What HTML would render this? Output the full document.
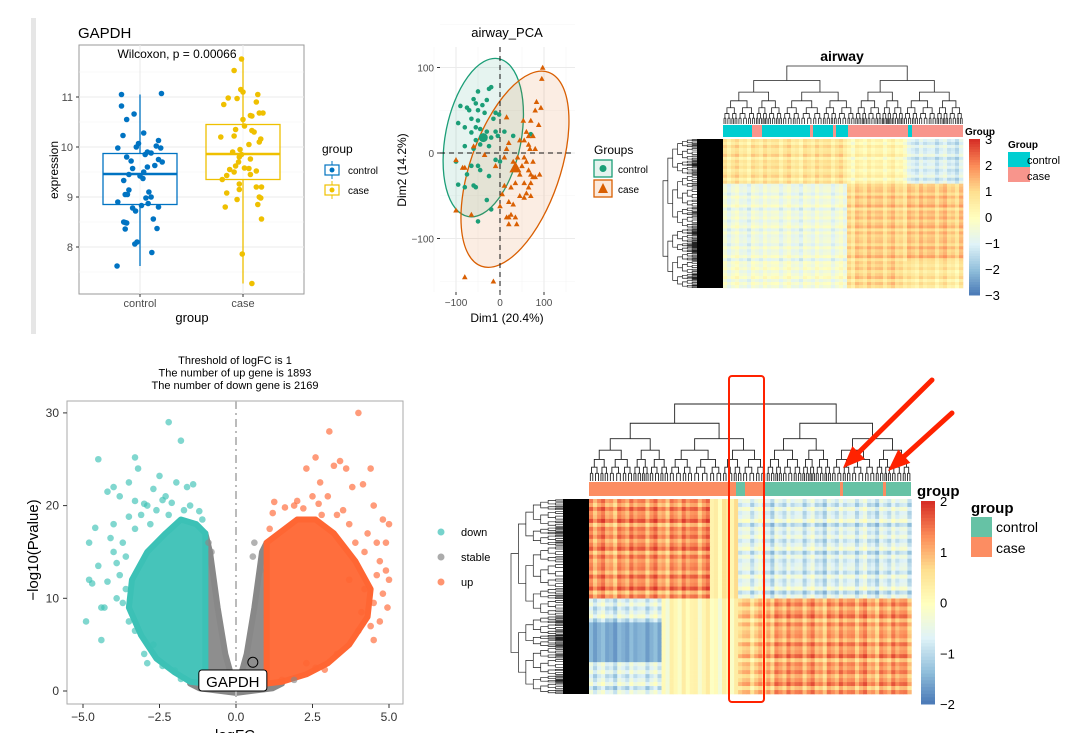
<!DOCTYPE html>
<html><head><meta charset="utf-8"><style>
html,body{margin:0;padding:0;background:#fff;}
svg{display:block;font-family:"Liberation Sans",sans-serif;}
</style></head><body>
<svg id="fig" width="1080" height="733" viewBox="0 0 1080 733" xmlns="http://www.w3.org/2000/svg">
<rect x="0" y="0" width="1080" height="733" fill="#fff"/>
<rect x="31" y="18" width="5" height="316" fill="#e6e6e6"/>
<g id="box"></g><g id="pca"></g><g id="hm1"></g><g id="volc"></g><g id="hm2"></g>
</svg>
<script>
// ---------- DATA ----------
const boxCategories=["control","case"];
const controlValues=[11.05,10.82,10.66,10.55,10.23,10.28,10.07,10.0,9.98,10.13,10.02,9.98,9.9,9.85,9.88,9.8,9.75,9.7,9.72,9.6,9.63,9.57,9.5,9.45,9.42,9.37,9.33,9.14,9.1,9.05,9.05,9.0,8.98,8.9,8.87,8.83,8.8,8.78,8.72,8.56,8.5,8.49,8.48,8.37,8.36,8.1,8.06,7.89,7.62,11.07];
const controlJitter=[-0.25,-0.25,-0.08,-0.18,-0.23,0.05,-0.02,-0.05,-0.3,0.25,0.22,0.28,0.1,0.07,0.15,-0.18,0.25,0.3,-0.12,0.1,0.2,-0.1,0.05,-0.15,0.0,0.04,-0.22,-0.15,0.12,-0.2,-0.17,0.15,0.08,-0.3,0.11,0.02,0.25,-0.1,-0.06,0.18,-0.22,-0.2,-0.18,0.23,-0.2,-0.04,-0.07,0.16,-0.31,0.29];
const caseValues=[11.76,11.53,11.15,11.1,11.05,10.98,10.97,10.9,10.85,10.68,10.68,10.63,10.62,10.55,10.42,10.35,10.33,10.3,10.22,10.2,10.16,10.1,10.05,9.95,9.9,9.85,9.8,9.76,9.7,9.62,9.58,9.57,9.55,9.52,9.5,9.45,9.43,9.35,9.26,9.2,9.2,9.15,9.08,9.0,8.98,8.95,8.85,8.8,8.56,7.86,7.27];
const caseJitter=[-0.02,-0.12,-0.03,0.0,0.2,-0.2,-0.08,0.18,-0.26,0.22,0.27,0.1,0.12,0.0,0.02,-0.1,0.12,0.15,-0.12,-0.3,0.24,0.22,0.08,-0.04,-0.14,-0.02,-0.05,0.1,-0.06,-0.1,0.02,0.08,-0.18,0.18,-0.12,0.1,-0.22,-0.28,-0.05,0.18,0.25,-0.05,-0.22,0.22,0.24,-0.08,0.2,-0.24,0.25,-0.01,0.12];
const boxStats={control:[7.62,8.85,9.46,9.87,11.05],case:[7.27,9.35,9.86,10.45,11.8]};
const boxTicks=[8,9,10,11];

const pcaControl=[[-60,63],[-50,72],[-55,58],[-40,56],[-20,77],[-25,75],[-30,62],[-70,50],[-90,55],[-75,53],[-50,50],[-35,47],[-10,47],[-2,45],[-15,40],[-50,38],[-65,40],[-95,35],[-80,30],[-55,30],[-45,28],[-65,24],[-40,20],[-30,25],[-20,18],[-10,25],[-5,20],[-55,15],[-45,10],[-80,8],[-60,5],[-25,8],[-10,-8],[-50,-15],[-65,-15],[-45,-20],[-75,-25],[-25,-27],[-95,-37],[-55,-40],[-80,-40],[-60,-38],[-30,-55],[-20,-66],[-50,-80],[0,-10],[10,25],[30,20],[70,22],[-100,-10]];
const pcaCase=[[97,100],[95,87],[83,60],[80,50],[93,53],[70,38],[53,38],[88,33],[15,42],[60,25],[65,20],[75,20],[55,15],[45,15],[65,10],[68,5],[80,5],[20,12],[15,5],[40,-5],[55,-5],[60,-10],[65,-20],[50,-15],[45,-25],[70,-25],[75,-28],[80,-28],[55,-35],[70,-35],[65,-40],[35,-35],[25,-40],[10,-38],[5,-48],[45,-50],[55,-52],[70,-50],[60,-47],[20,-57],[30,-60],[0,-62],[15,-75],[20,-75],[25,-72],[38,-83],[20,-83],[-80,-145],[-15,-150],[-100,-67],[-65,-72],[-80,-17],[-100,-8],[-85,-17],[-60,8],[-35,-2],[-10,-15],[35,-75],[10,-5],[30,-10],[90,-25],[75,-10]];
const pcaCentroids=[[-38,18],[35,-17]];
const pcaEllipses=[[-38,18,86,94,11],[34,-19,102,120,19]]; // cx,cy,rx(data),ry(data),angle
const pcaTicks=[-100,0,100];

const volcTicksX=[-5,-2.5,0,2.5,5];
const volcTickLabelsX=["−5.0","−2.5","0.0","2.5","5.0"];
const volcTicksY=[0,10,20,30];
const downArea=[[-1,0.8],[-1,17],[-1.3,18],[-1.8,18.5],[-2.3,17],[-2.9,15],[-3.4,12],[-3.5,9],[-3.1,6],[-2.6,3.5],[-2,2],[-1.5,1]];
const upArea=[[1,0.8],[1,16],[1.4,17],[2,18.5],[2.6,18.5],[3.2,17],[3.9,14],[4.4,11],[4.3,8],[3.7,5],[3,3],[2.3,1.8],[1.5,1]];
const stableArea=[[-1,17],[-0.85,15],[-0.6,9],[-0.35,4],[-0.1,1],[0.1,1],[0.35,4],[0.6,9],[0.85,15],[1,16],[1,0.8],[1.5,0.8],[1.2,0.3],[0,-0.2],[-1.2,0.3],[-1.5,0.8],[-1,0.8]];
const downPoints=[[-4.9,7.5],[-4.8,12],[-4.7,11.6],[-4.8,16],[-4.5,25],[-4.5,13.5],[-4.4,9],[-4.4,5.5],[-4.3,9],[-4.2,11.8],[-4.1,16.5],[-4.2,21.5],[-4,22],[-3.8,21],[-3.7,16],[-3.5,22.5],[-3.3,25.2],[-3.2,24],[-3.1,19],[-2.9,20],[-2.5,23.2],[-2.2,29],[-1.8,27],[-1.95,22.5],[-1.6,22],[-1.4,22.3],[-2.8,18],[-2.3,21],[-3.6,14.5],[-3.9,10],[-3.5,7.5],[-3.0,4],[-2.7,5],[-1.8,1.3],[-2.0,2.2],[-4.6,17.6],[-3.3,17.5],[-2.6,19.5],[-1.5,20],[-4.0,15],[-3.8,12.5],[-2.1,20.3],[-3.3,20.5],[-3.0,20.2],[-2.7,21.8],[-2.4,20.6],[-1.7,19.5],[-1.2,19.4],[-1.1,18.5],[-3.6,11],[-3.7,9.5],[-3.3,6.5],[-2.9,3],[-2.4,2.7],[-3.9,13.8],[-4.0,18],[-3.5,18.8],[-2.2,19]];
const upPoints=[[4.0,30],[3.05,28],[2.6,25.2],[3.4,24.8],[2.3,24],[3.2,24.3],[3.6,24],[4.4,24],[2.75,22.5],[4.15,22.3],[3.8,22],[4.5,20],[1.25,20.4],[2.0,20.5],[1.2,19.2],[3.0,21],[4.8,18.5],[5.0,18],[4.9,16],[4.7,14],[4.6,12.5],[5.0,12],[4.95,9],[4.4,7],[4.5,5.5],[4.2,11],[3.9,16],[2.5,21],[1.9,20],[3.5,19.5],[2.3,3],[2.6,2.5],[1.5,1.2],[4.3,17],[3.7,12],[2.8,19],[4.8,10.5],[4.1,8.5],[1.6,19.8],[2.2,19.7],[3.3,19],[3.7,18],[4.2,15],[4.6,16],[4.9,13],[4.5,9.5],[4.0,6.5],[3.3,4],[2.9,2.3],[4.7,7.5],[1.1,17.5],[2.7,20.2]];
const stablePoints=[[0.6,16],[0.55,14.5],[1.9,1.2],[-0.9,16],[0.8,13],[-0.8,15]];
const gapdhPoint=[0.55,3.1];

const hm1Means=[[0.7,0.2,-1.1],[-0.6,1.1,1.2],[-0.4,1.0,0.6]];
const hm2Means=[[1.2,-0.6,-0.7],[-0.7,0.7,1.1]];
const colNoise=[0.2,-0.3,0.1,0.35,-0.15,0.0,-0.4,0.25,0.05,-0.2,0.3,-0.05,0.15];
const rowNoise=[0.1,-0.25,0.3,-0.1,0.0,0.4,-0.35,0.15,-0.05,0.25,-0.2,0.05,0.35,-0.3,0.2,-0.15,0.0];
const hm1Ticks=[3,2,1,0,-1,-2,-3];
const hm2Ticks=[2,1,0,-1,-2];

// ---------- HELPERS ----------
const NS="http://www.w3.org/2000/svg";
function mk(parent,tag,attrs,text){const e=document.createElementNS(NS,tag);for(const k in attrs)e.setAttribute(k,attrs[k]);if(text!==undefined)e.textContent=text;parent.appendChild(e);return e;}
function hex2(c){return [parseInt(c.slice(1,3),16),parseInt(c.slice(3,5),16),parseInt(c.slice(5,7),16)];}
const stops=["#4575b4","#91bfdb","#e0f3f8","#ffffbf","#fee090","#fc8d59","#d73027"].map(hex2);
function rdylbu(t){t=Math.max(0,Math.min(1,t));const p=t*(stops.length-1);const i=Math.min(stops.length-2,Math.floor(p));const f=p-i;const a=stops[i],b=stops[i+1];return "rgb("+a.map((v,k)=>Math.round(v+(b[k]-v)*f)).join(",")+")";}

// ---------- BOX PLOT ----------
(function(){
const g=document.getElementById('box');
const X0=79,X1=304,Y0=45,Y1=294;
const y=v=>147-(v-10)*50;
const xc={control:140,case:243};
const bw=74;
mk(g,'text',{x:78,y:38,'font-size':15,fill:'#000',},'GAPDH');
mk(g,'rect',{x:X0,y:Y0,width:X1-X0,height:Y1-Y0,fill:'#fff',stroke:'#9a9a9a','stroke-width':1,});
[7.5,8.5,9.5,10.5,11.5].forEach(v=>mk(g,'line',{x1:X0,x2:X1,y1:y(v),y2:y(v),stroke:'#f2f2f2','stroke-width':0.6}));
boxTicks.forEach(v=>{mk(g,'line',{x1:X0,x2:X1,y1:y(v),y2:y(v),stroke:'#ebebeb','stroke-width':1.1});
 mk(g,'line',{x1:X0-3,x2:X0,y1:y(v),y2:y(v),stroke:'#333'});
 const t=mk(g,'text',{x:X0-6,y:y(v)+4,'text-anchor':'end','font-size':11,fill:'#4d4d4d'},String(v));});
boxCategories.forEach(c=>{mk(g,'line',{x1:xc[c],x2:xc[c],y1:Y0,y2:Y1,stroke:'#ebebeb','stroke-width':1.1});
 mk(g,'line',{x1:xc[c],x2:xc[c],y1:Y1,y2:Y1+3,stroke:'#333'});
 const t=mk(g,'text',{x:xc[c],y:307,'text-anchor':'middle','font-size':11,fill:'#4d4d4d'},c);});
const cols={control:'#0073c2',case:'#efc000'};
boxCategories.forEach(c=>{const s=boxStats[c];const col=cols[c];
 const bg=mk(g,'g',{});
 mk(bg,'line',{x1:xc[c],x2:xc[c],y1:y(s[0]),y2:y(s[1]),stroke:col,'stroke-width':1.3});
 mk(bg,'line',{x1:xc[c],x2:xc[c],y1:y(s[3]),y2:y(s[4]),stroke:col,'stroke-width':1.3});
 mk(bg,'rect',{x:xc[c]-bw/2,y:y(s[3]),width:bw,height:y(s[1])-y(s[3]),fill:'#fff','fill-opacity':0.6,stroke:col,'stroke-width':1.3});
 mk(bg,'line',{x1:xc[c]-bw/2,x2:xc[c]+bw/2,y1:y(s[2]),y2:y(s[2]),stroke:col,'stroke-width':2.4});});
const pts=(vals,jit,c)=>vals.forEach((v,i)=>{const p=mk(g,'circle',{cx:xc[c]+jit[i]*bw,cy:y(v),r:2.8,fill:cols[c]});});
pts(controlValues,controlJitter,'control');pts(caseValues,caseJitter,'case');
mk(g,'text',{x:177,y:58,'text-anchor':'middle','font-size':12,fill:'#000',},'Wilcoxon, p = 0.00066');
const yl=mk(g,'text',{x:58,y:170,'text-anchor':'middle','font-size':12,fill:'#000',transform:'rotate(-90 58 170)'},'expression');
mk(g,'text',{x:192,y:322,'text-anchor':'middle','font-size':13,fill:'#000',},'group');
const lg=mk(g,'g',{});
mk(lg,'text',{x:322,y:153,'font-size':12,fill:'#000'},'group');
[['control',170],['case',190]].forEach(([c,yy])=>{const e=mk(lg,'g',{});
 mk(e,'line',{x1:332,x2:332,y1:yy-9,y2:yy+9,stroke:cols[c]});
 mk(e,'rect',{x:325,y:yy-5,width:14,height:10,fill:'#fff',stroke:cols[c],'stroke-width':1.2});
 mk(e,'circle',{cx:332,cy:yy,r:2.5,fill:cols[c]});
 mk(e,'text',{x:348,y:yy+4,'font-size':10,fill:'#000'},c);});
})();

// ---------- PCA ----------
(function(){
const g=document.getElementById('pca');
const x=v=>500+v*0.44, y=v=>153-v*0.855;
const X0=440,X1=575,Y0=47,Y1=292;
mk(g,'text',{x:507,y:37,'text-anchor':'middle','font-size':13,fill:'#000',},'airway_PCA');
[-150,-50,50,150].forEach(v=>{mk(g,'line',{x1:x(v),x2:x(v),y1:Y0,y2:Y1,stroke:'#f4f4f4','stroke-width':0.6});mk(g,'line',{x1:X0,x2:X1,y1:y(v),y2:y(v),stroke:'#f4f4f4','stroke-width':0.6});});
pcaTicks.forEach(v=>{mk(g,'line',{x1:x(v),x2:x(v),y1:Y0,y2:Y1,stroke:'#ebebeb','stroke-width':1.1});mk(g,'line',{x1:X0,x2:X1,y1:y(v),y2:y(v),stroke:'#ebebeb','stroke-width':1.1});
 const a=mk(g,'text',{x:X0-6,y:y(v)+4,'text-anchor':'end','font-size':10,fill:'#4d4d4d'},v<0?'−'+(-v):String(v));
 mk(g,'line',{x1:X0-3,x2:X0,y1:y(v),y2:y(v),stroke:'#333'});
 const b=mk(g,'text',{x:x(v),y:Y1+14,'text-anchor':'middle','font-size':10,fill:'#4d4d4d'},v<0?'−'+(-v):String(v));
 mk(g,'line',{x1:x(v),x2:x(v),y1:Y1,y2:Y1+3,stroke:'#333'});});
const ec=[['#1b9e77','#e5f3ee'],['#d95f02','#fbe9dc']];
pcaEllipses.forEach((e,i)=>{const el=mk(g,'ellipse',{cx:x(e[0]),cy:y(e[1]),rx:e[2]*0.44,ry:e[3]*0.855,transform:`rotate(${e[4]} ${x(e[0])} ${y(e[1])})`,fill:ec[i][0],'fill-opacity':0.11,stroke:ec[i][0],'stroke-width':1.3});});
mk(g,'line',{x1:X0,x2:X1,y1:y(0),y2:y(0),stroke:'#111','stroke-dasharray':'5,4','stroke-width':1});
mk(g,'line',{x1:x(0),x2:x(0),y1:Y0,y2:Y1,stroke:'#111','stroke-dasharray':'5,4','stroke-width':1});
pcaControl.forEach(p=>{const c=mk(g,'circle',{cx:x(p[0]),cy:y(p[1]),r:2.3,fill:'#1b9e77'});});
const tri=(cx,cy,s,col)=>mk(g,'polygon',{points:`${cx},${cy-s} ${cx-s},${cy+s*0.8} ${cx+s},${cy+s*0.8}`,fill:col});
pcaCase.forEach(p=>{const t=tri(x(p[0]),y(p[1]),2.8,'#d95f02');});
const c0=mk(g,'circle',{cx:x(pcaCentroids[0][0]),cy:y(pcaCentroids[0][1]),r:4.5,fill:'#1b9e77'});
const c1=tri(x(pcaCentroids[1][0]),y(pcaCentroids[1][1]),6,'#d95f02');
mk(g,'text',{x:507,y:322,'text-anchor':'middle','font-size':12,fill:'#000',},'Dim1 (20.4%)');
mk(g,'text',{x:406,y:170,'text-anchor':'middle','font-size':12,fill:'#000',transform:'rotate(-90 406 170)',},'Dim2 (14.2%)');
const lg=mk(g,'g',{});
mk(lg,'text',{x:594,y:154,'font-size':12,fill:'#000'},'Groups');
const e1=mk(lg,'g',{});
mk(e1,'rect',{x:594,y:160,width:18,height:17,fill:'#e5f3ee',stroke:'#1b9e77','stroke-width':1.3});mk(e1,'circle',{cx:603,cy:168.5,r:3.5,fill:'#1b9e77'});mk(e1,'text',{x:618,y:173,'font-size':10,fill:'#000'},'control');
const e2=mk(lg,'g',{});
mk(e2,'rect',{x:594,y:180,width:18,height:17,fill:'#fbe9dc',stroke:'#d95f02','stroke-width':1.3});mk(e2,'polygon',{points:'603,183 598,193 608,193',fill:'#d95f02'});mk(e2,'text',{x:618,y:193,'font-size':10,fill:'#000'},'case');
})();

// ---------- DENDROGRAM helper ----------
function dendro(g,x0,x1,yTop,yBot,depth,name,lw){
 const gg=mk(g,'g',{fill:'none',stroke:'#222','stroke-width':lw||0.8});
 let d='';
 const hts=[1,0.75,0.55,0.4,0.28,0.18,0.1];
 function rec(a,b,lvl,h){
  if(lvl>=depth){const m=(a+b)/2;d+=`M${m},${yBot}V${h}`;return m;}
  const sp=a+(b-a)*(lvl%2?0.45:0.55);
  const hh=yTop+(yBot-yTop)*(1-hts[Math.min(lvl+1,hts.length-1)]);
  const l=rec(a,sp,lvl+1,hh),r=rec(sp,b,lvl+1,hh);
  d+=`M${l},${hh}V${h}H${r}V${hh}`;return (l+r)/2;}
 rec(x0,x1,0,yTop);
 mk(gg,'path',{d:d});
}
function rowDendro(g,x0,x1,y0,y1,name){
 const gg=mk(g,'g',{});
 mk(gg,'rect',{x:x1-26,y:y0,width:26,height:y1-y0,fill:'#000'});
 let d='';const n=7;
 function rec(a,b,lvl,xx){if(lvl>=n){d+=`M${xx},${(a+b)/2}H${x1-26}`;return (a+b)/2;}
  const sp=a+(b-a)*(lvl%2?0.4:0.6);const nx=x0+(x1-26-x0)*(lvl+1)/n;
  const t=rec(a,sp,lvl+1,nx),bb=rec(sp,b,lvl+1,nx);d+=`M${nx},${t}H${xx}V${bb}H${nx}`;return (t+bb)/2;}
 rec(y0,y1,0,x0);
 mk(gg,'path',{d:d,fill:'none',stroke:'#222','stroke-width':0.7});
}

// ---------- HEATMAP helper ----------
function heat(g,x0,y0,ncol,nrow,cw,rh,colGroup,rowGroup,means,vmin,vmax,extra,name){
 const gg=mk(g,'g',{});
 for(let r=0;r<nrow;r++)for(let c=0;c<ncol;c++){
  let v=means[rowGroup(r)][colGroup(c)]+colNoise[c%colNoise.length]+rowNoise[r%rowNoise.length];
  if(extra)v=extra(r,c,v);
  const cell=mk(gg,'rect',{x:x0+c*cw,y:y0+r*rh,width:cw+0.3,height:rh+0.3,fill:rdylbu((v-vmin)/(vmax-vmin))});
  
  
 }
}
function colorbar(g,x,y0,y1,w,ticks,vmin,vmax,name){
 const gg=mk(g,'g',{});
 const n=60;for(let i=0;i<n;i++)mk(gg,'rect',{x:x,y:y0+(y1-y0)*i/n,width:w,height:(y1-y0)/n+0.5,fill:rdylbu(1-i/n)});
 ticks.forEach(t=>{const yy=y0+(vmax-t)/(vmax-vmin)*(y1-y0);const tt=mk(gg,'text',{x:x+w+5,y:yy+5,'font-size':13,fill:'#000'},t<0?'−'+(-t):String(t));});
}

// ---------- TOP HEATMAP ----------
(function(){
const g=document.getElementById('hm1');
mk(g,'text',{x:842,y:61,'text-anchor':'middle','font-size':14,'font-weight':'bold',fill:'#000',},'airway');
dendro(g,723,963,66,124,7,'heatmap1-column-dendrogram',0.8);
const segs=[[723,752,'#00ced1'],[752,762,'#f8958c'],[762,810,'#00ced1'],[810,813,'#f8958c'],[813,833,'#00ced1'],[833,836,'#f8958c'],[836,848,'#00ced1'],[848,908,'#f8958c'],[908,912,'#00ced1'],[912,963,'#f8958c']];
segs.forEach(s=>{const r=mk(g,'rect',{x:s[0],y:125,width:s[1]-s[0],height:12,fill:s[2]});});
heat(g,723,139,60,50,4,2.98,c=>c<31?0:(c<46?1:2),r=>r<15?0:(r<41?1:2),hm1Means,-3,3,null,'heatmap1-cells');
rowDendro(g,663,723,139,288,'heatmap1-row-dendrogram');
colorbar(g,969,139,295,11,hm1Ticks,-3,3,'heatmap1-colorbar');
mk(g,'text',{x:965,y:135,'font-size':10,'font-weight':'bold',fill:'#000',},'Group');
const lg=mk(g,'g',{});
mk(lg,'text',{x:1008,y:148,'font-size':10,'font-weight':'bold',fill:'#000'},'Group');
mk(lg,'rect',{x:1008,y:152,width:22,height:15,fill:'#00ced1'});mk(lg,'rect',{x:1008,y:167,width:22,height:15,fill:'#f8958c'});
mk(lg,'text',{x:1027,y:164,'font-size':11,fill:'#000'},'control');mk(lg,'text',{x:1027,y:180,'font-size':11,fill:'#000'},'case');
})();

// ---------- VOLCANO ----------
(function(){
const g=document.getElementById('volc');
const x=v=>236+v*30.6, y=v=>691-v*9.27;
const X0=67,X1=403,Y0=401,Y1=704;
['Threshold of logFC is 1','The number of up gene is 1893','The number of down gene is 2169'].forEach((t,i)=>{const e=mk(g,'text',{x:235,y:364+i*12.5,'text-anchor':'middle','font-size':11,fill:'#000'},t);});
mk(g,'rect',{x:X0,y:Y0,width:X1-X0,height:Y1-Y0,fill:'#fff',stroke:'#aaa','stroke-width':1,});
const poly=(arr,col,name)=>{const p=mk(g,'polygon',{points:arr.map(q=>x(q[0])+','+y(q[1])).join(' '),fill:col,stroke:col,'stroke-width':6,'stroke-linejoin':'round','fill-opacity':0.95});};
poly(stableArea,'#888888','stable-density');poly(downArea,'#3cc1b6','down-density');poly(upArea,'#ff6633','up-density');
const dots=(arr,col,name)=>arr.forEach(q=>{const c=mk(g,'circle',{cx:x(q[0]),cy:y(q[1]),r:3.3,fill:col,'fill-opacity':0.65});});
dots(downPoints,'#3cc1b6','down-point');dots(upPoints,'#ff6633','up-point');dots(stablePoints,'#888','stable-point');
mk(g,'line',{x1:x(0),x2:x(0),y1:Y0,y2:Y1,stroke:'#bbb','stroke-width':2,'stroke-dasharray':'8,4,2,4',});
mk(g,'circle',{cx:x(gapdhPoint[0]),cy:y(gapdhPoint[1]),r:5,fill:'none',stroke:'#000','stroke-width':1,});
mk(g,'rect',{x:x(gapdhPoint[0])-54,y:670,width:68,height:21,rx:3,fill:'#fff',stroke:'#000',});
mk(g,'text',{x:x(gapdhPoint[0])-20,y:687,'text-anchor':'middle','font-size':15,fill:'#000',},'GAPDH');
volcTicksX.forEach((v,i)=>{mk(g,'line',{x1:x(v),x2:x(v),y1:Y1,y2:Y1+4,stroke:'#333'});const t=mk(g,'text',{x:x(v),y:721,'text-anchor':'middle','font-size':12,fill:'#333'},volcTickLabelsX[i]);});
volcTicksY.forEach(v=>{mk(g,'line',{x1:X0-4,x2:X0,y1:y(v),y2:y(v),stroke:'#333'});const t=mk(g,'text',{x:X0-8,y:y(v)+4,'text-anchor':'end','font-size':12,fill:'#333'},String(v));});
mk(g,'text',{x:235,y:740,'text-anchor':'middle','font-size':15,fill:'#000',},'logFC');
mk(g,'text',{x:38,y:550,'text-anchor':'middle','font-size':15,fill:'#000',transform:'rotate(-90 38 550)',},'−log10(Pvalue)');
const lg=mk(g,'g',{});
[['down','#3cc1b6',532],['stable','#888',557],['up','#ff6633',582]].forEach(([n,c,yy])=>{const e=mk(lg,'g',{});mk(e,'circle',{cx:441,cy:yy,r:3.5,fill:c,'fill-opacity':0.7});mk(e,'text',{x:461,y:yy+4,'font-size':11,fill:'#000'},n);});
})();

// ---------- BOTTOM HEATMAP ----------
(function(){
const g=document.getElementById('hm2');
dendro(g,589,911,404,481,7,'heatmap2-column-dendrogram',0.9);
const segs=[[589,736,'#fc8d62'],[736,745,'#66c2a5'],[745,765,'#fc8d62'],[765,840,'#66c2a5'],[840,843,'#fc8d62'],[843,883,'#66c2a5'],[883,886,'#fc8d62'],[886,911,'#66c2a5']];
segs.forEach(s=>{const r=mk(g,'rect',{x:s[0],y:482,width:s[1]-s[0],height:14,fill:s[2]});});
heat(g,589,499,80,49,4.03,3.98,c=>c<37?0:(c<44?1:2),r=>r<25?0:1,hm2Means,-2,2,(r,c,v)=>{if(r<25&&c>=30&&c<37)return 0.4+colNoise[c%13];if(r>=31&&r<41&&c<18)return -1.5+colNoise[c%13]*0.5;if(r>=25&&c>=18&&c<37)return 0.1+colNoise[c%13];return v;},'heatmap2-cells');
rowDendro(g,511,589,499,694,'heatmap2-row-dendrogram');
colorbar(g,921,501,704,14,hm2Ticks,-2,2,'heatmap2-colorbar');
mk(g,'text',{x:917,y:496,'font-size':15,'font-weight':'bold',fill:'#000',},'group');
const lg=mk(g,'g',{});
mk(lg,'text',{x:971,y:513,'font-size':15,'font-weight':'bold',fill:'#000'},'group');
mk(lg,'rect',{x:971,y:517,width:21,height:20,fill:'#66c2a5'});mk(lg,'rect',{x:971,y:537,width:21,height:20,fill:'#fc8d62'});
mk(lg,'text',{x:996,y:532,'font-size':14,fill:'#000'},'control');mk(lg,'text',{x:996,y:553,'font-size':14,fill:'#000'},'case');
mk(g,'rect',{x:729,y:376,width:35,height:326,rx:3,fill:'none',stroke:'#ff2200','stroke-width':2,});
const arrow=(x0,y0,x1,y1,name)=>{const a=Math.atan2(y1-y0,x1-x0);const L=22,W=9;const bx=x1-L*Math.cos(a),by=y1-L*Math.sin(a);const px=-Math.sin(a),py=Math.cos(a);
 const ag=mk(g,'g',{});
 mk(ag,'line',{x1:x0,y1:y0,x2:bx,y2:by,stroke:'#ff2200','stroke-width':5,'stroke-linecap':'round'});
 mk(ag,'polygon',{points:`${x1},${y1} ${bx+px*W},${by+py*W} ${bx-px*W},${by-py*W}`,fill:'#ff2200'});};
arrow(932,380,843,468,'annotation-arrow-1');arrow(952,413,888,471,'annotation-arrow-2');
})();
</script>
</body></html>
